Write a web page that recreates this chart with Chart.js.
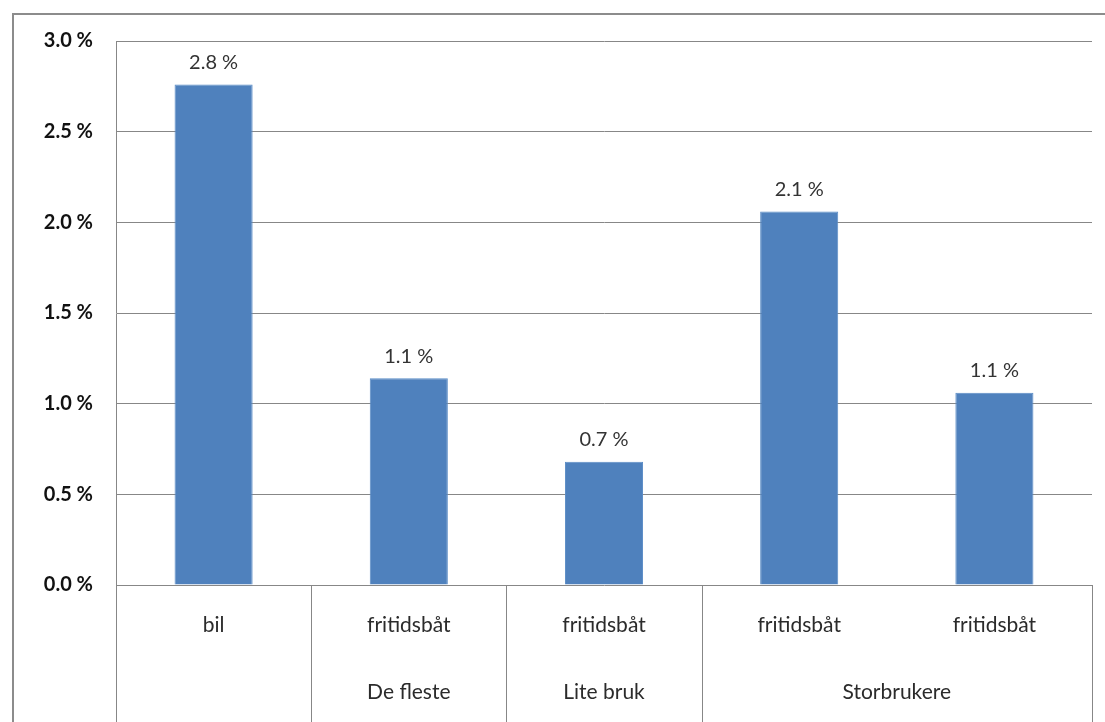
<!DOCTYPE html>
<html>
<head>
<meta charset="utf-8">
<script src="https://cdn.jsdelivr.net/npm/chart.js@4/dist/chart.umd.min.js"></script>
<style>
	html, body { margin: 0; padding: 0; background: #fff; }
	#wrap { width: 1105px; height: 722px; position: relative; }
</style>
</head>
<body>
<div id="wrap"><canvas id="andel"></canvas></div>
<script>
	// kategorier og andeler (prosent)
	const categories = ["bil", "fritidsbåt", "fritidsbåt", "fritidsbåt", "fritidsbåt"];
	const values = [2.76, 1.14, 0.68, 2.06, 1.06];
	// grupper på andre linje under aksen, med antall kategorier i hver
	const groupLabels = ["", "De fleste", "Lite bruk", "Storbrukere"];
	const groupSizes = [1, 1, 1, 2];
	const yTicks = [0, 0.5, 1.0, 1.5, 2.0, 2.5, 3.0];

	const lineColor = "#878787";
	const fontFamily = "Lato, 'Open Sans', sans-serif";

	// ramme rundt hele figuren
	const framePlugin = {
		id: "frame",
		beforeDraw(chart) {
			const ctx = chart.ctx;
			ctx.save();
			ctx.strokeStyle = "#8c8c8c";
			ctx.lineWidth = 2;
			ctx.beginPath();
			ctx.moveTo(13, chart.height);
			ctx.lineTo(13, 14);
			ctx.lineTo(chart.width, 14);
			ctx.stroke();
			ctx.restore();
		},
	};

	// skillelinjer og gruppetekst under x-aksen
	const groupPlugin = {
		id: "groups",
		afterDraw(chart) {
			const ctx = chart.ctx;
			const x = chart.scales.x;
			const area = chart.chartArea;
			const half = (x.getPixelForValue(1) - x.getPixelForValue(0)) / 2;
			ctx.save();
			ctx.strokeStyle = lineColor;
			ctx.lineWidth = 1;
			ctx.fillStyle = "#2b2b2b";
			ctx.font = "21px " + fontFamily;
			ctx.textAlign = "center";
			ctx.textBaseline = "middle";
			let idx = 0;
			const edge = (px) => {
				const p = Math.round(px) + 0.5;
				ctx.beginPath();
				ctx.moveTo(p, area.bottom);
				ctx.lineTo(p, chart.height);
				ctx.stroke();
			};
			edge(x.getPixelForValue(0) - half);
			groupSizes.forEach((n, g) => {
				const left = x.getPixelForValue(idx) - half;
				const right = x.getPixelForValue(idx + n - 1) + half;
				edge(right);
				if (groupLabels[g]) ctx.fillText(groupLabels[g], (left + right) / 2, 692);
				idx += n;
			});
			ctx.restore();
		},
	};

	// verdietiketter over søylene
	const valueLabels = {
		id: "valueLabels",
		afterDatasetsDraw(chart) {
			const ctx = chart.ctx;
			const meta = chart.getDatasetMeta(0);
			ctx.save();
			ctx.fillStyle = "#333333";
			ctx.font = "20px " + fontFamily;
			ctx.textAlign = "center";
			ctx.textBaseline = "bottom";
			meta.data.forEach((bar, i) => {
				ctx.fillText(values[i].toFixed(1) + " %", bar.x, bar.y - 12);
			});
			ctx.restore();
		},
	};

	new Chart(document.getElementById("andel").getContext("2d"), {
		type: "bar",
		data: {
			labels: categories,
			datasets: [
				{
					data: values,
					backgroundColor: "#4f81bd",
					borderColor: "#5a8cc6",
					borderWidth: 1,
					barPercentage: 0.4,
					categoryPercentage: 1,
				},
			],
		},
		options: {
			responsive: true,
			maintainAspectRatio: false,
			animation: false,
			layout: { padding: { left: 0, top: 41, right: 13, bottom: 0 } },
			plugins: {
				legend: { display: false },
				tooltip: { enabled: false },
			},
			scales: {
				x: {
					grid: { display: false, drawTicks: false },
					border: { display: false },
					ticks: {
						color: "#2b2b2b",
						font: { family: fontFamily, size: 21 },
						padding: 28,
						maxRotation: 0,
					},
					afterFit(scale) { scale.height = 137; },
				},
				y: {
					min: 0,
					max: 3,
					afterBuildTicks(scale) { scale.ticks = yTicks.map((v) => ({ value: v })); },
					grid: { color: lineColor, lineWidth: 1, drawTicks: false },
					border: { display: true, color: lineColor, width: 1 },
					ticks: {
						color: "#111111",
						font: { family: fontFamily, size: 20, weight: "bold" },
						padding: 23,
						callback: (v) => v.toFixed(1) + " %",
					},
					afterFit(scale) { scale.width = 116; },
				},
			},
		},
		plugins: [framePlugin, groupPlugin, valueLabels],
	});
</script>
</body>
</html>
